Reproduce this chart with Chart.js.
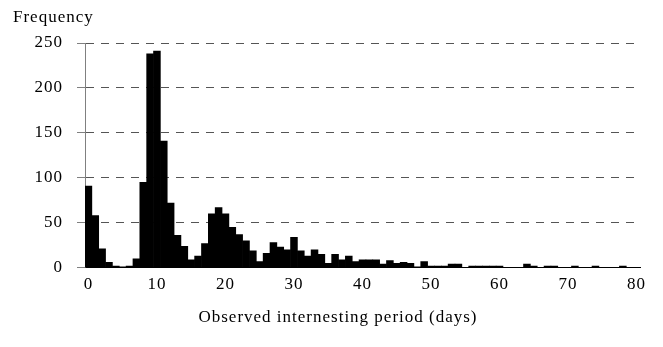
<!DOCTYPE html>
<html>
<head>
    <title>Observed internesting period</title>
    <script src="https://cdn.jsdelivr.net/npm/chart.js"></script>
    <style>
        body { margin: 0; background: #fff; }
    </style>
</head>
<body>
    <canvas id="histChart" width="663" height="347"></canvas>

    <script>
        // one bin per day, 0..80
        const days = [];
        for (let d = 0; d <= 80; d++) days.push(String(d));

        const frequency = [
            91, 58, 21, 6, 2, 1, 2, 10, 95, 238,
            241, 141, 72, 36, 24, 9, 13, 27, 60, 67,
            60, 45, 37, 30, 19, 7, 16, 28, 23, 20,
            34, 19, 13, 20, 15, 5, 15, 9, 13, 7,
            9, 9, 9, 4, 8, 5, 6, 5, 1, 7,
            2, 2, 2, 4, 4, 0, 2, 2, 2, 2,
            2, 0, 0, 0, 4, 2, 0, 2, 2, 0,
            0, 2, 0, 0, 2, 0, 0, 0, 2, 0,
            0
        ];

        const yTicks = [0, 50, 100, 150, 200, 250];

        Chart.defaults.font.family = "'Liberation Serif', 'Times New Roman', serif";
        Chart.defaults.font.size = 17;
        Chart.defaults.color = '#000';

        const spacing = {
            id: 'spacing',
            beforeLayout(chart) { chart.ctx.letterSpacing = '1px'; },
            beforeDraw(chart) { chart.ctx.letterSpacing = '1px'; }
        };

        const ctx = document.getElementById('histChart').getContext('2d');
        const chart = new Chart(ctx, {
            type: 'bar',
            data: {
                labels: days,
                datasets: [{
                    label: 'Frequency',
                    data: frequency,
                    backgroundColor: '#000',
                    borderWidth: 0,
                    barPercentage: 1,
                    categoryPercentage: 1
                }]
            },
            options: {
                responsive: false,
                animation: false,
                layout: { padding: { left: 13, right: 0, top: 0, bottom: 0 } },
                plugins: {
                    legend: { display: false },
                    tooltip: { enabled: false },
                    title: {
                        display: true,
                        text: 'Frequency',
                        align: 'start',
                        font: { weight: 'normal', size: 17 },
                        padding: { top: 7, bottom: 15.6 }
                    },
                    subtitle: {
                        display: true,
                        position: 'bottom',
                        text: 'Observed internesting period (days)',
                        font: { size: 17 },
                        color: '#000',
                        padding: { top: 4, bottom: 18.8 }
                    }
                },
                scales: {
                    x: {
                        grid: { display: false, drawTicks: false },
                        border: { display: true, color: '#000', width: 1 },
                        ticks: {
                            autoSkip: false,
                            maxRotation: 0,
                            padding: 7,
                            callback: function (v, i) {
                                return i % 10 === 0 ? days[i] : '';
                            }
                        },
                        afterFit: s => { s.height = 36; }
                    },
                    y: {
                        min: 0,
                        max: 250,
                        afterBuildTicks: s => { s.ticks = yTicks.map(v => ({ value: v })); },
                        grid: {
                            color: c => c.tick && c.tick.value === 0 ? '#000' : '#555',
                            lineWidth: 1,
                            borderDash: [8, 7],
                            tickLength: 8,
                            tickColor: '#808080',
                            tickBorderDash: []
                        },
                        border: { display: true, color: '#808080', width: 1, dash: [8, 7] },
                        ticks: { padding: 14 },
                        afterFit: s => { s.width = 72; }
                    },
                    yR: {
                        position: 'right',
                        display: true,
                        grid: { display: false, drawTicks: false },
                        border: { display: false },
                        ticks: { display: false },
                        afterFit: s => { s.width = 23; }
                    }
                }
            },
            plugins: [spacing]
        });
    </script>
</body>
</html>
